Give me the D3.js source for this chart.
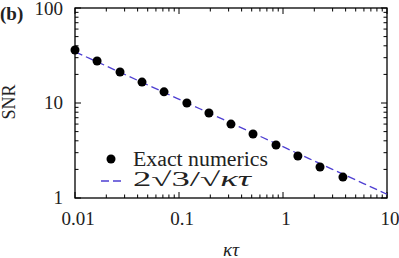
<!DOCTYPE html>
<html>
<head>
  <title>SNR vs kappa tau</title>
  <script src="https://d3js.org/d3.v7.min.js"></script>
</head>
<body style="margin:0">
<svg width="399" height="258"></svg>
<script>
  // kappa*tau values of the numerical points and their SNR
  const kappaTau = [0.01, 0.0163, 0.0271, 0.0441, 0.0718, 0.119, 0.194, 0.316, 0.515, 0.857, 1.39, 2.27, 3.77];
  const snr = [36.1, 27.7, 21.2, 16.6, 13.1, 10.0, 7.85, 6.0, 4.72, 3.61, 2.77, 2.12, 1.66];
  const xTicks = [0.01, 0.1, 1, 10];
  const yTicks = [1, 10, 100];
  const legendLabels = ["Exact numerics", "2\u221A3/\u221A"];

  const serif = "'Times New Roman', 'Liberation Serif', Tinos, Times";
  const svg = d3.select("svg");
  const plotL = 75, plotR = 387, plotT = 8, plotB = 198;

  const x = d3.scaleLog().domain([0.01, 10]).range([plotL, plotR]);
  const y = d3.scaleLog().domain([1, 100]).range([plotB, plotT]);

  // minor ticks for each decade
  const xMinor = [], yMinor = [];
  for (let d = -2; d < 1; d++) for (let k = 2; k < 10; k++) xMinor.push(k * Math.pow(10, d));
  for (let d = 0; d < 2; d++) for (let k = 2; k < 10; k++) yMinor.push(k * Math.pow(10, d));

  const g = svg.append("g");

  function tickLines(sel, vals, len, axis) {
    vals.forEach(v => {
      if (axis === "x") {
        sel.append("line").attr("x1", x(v)).attr("x2", x(v)).attr("y1", plotB).attr("y2", plotB - len);
        sel.append("line").attr("x1", x(v)).attr("x2", x(v)).attr("y1", plotT).attr("y2", plotT + len);
      } else {
        sel.append("line").attr("y1", y(v)).attr("y2", y(v)).attr("x1", plotL).attr("x2", plotL + len);
        sel.append("line").attr("y1", y(v)).attr("y2", y(v)).attr("x1", plotR).attr("x2", plotR - len);
      }
    });
  }
  const ticks = g.append("g").attr("stroke", "#000").attr("stroke-width", 1);
  tickLines(ticks, xTicks, 6, "x");
  tickLines(ticks, xMinor, 3.5, "x");
  tickLines(ticks, yTicks, 6, "y");
  tickLines(ticks, yMinor, 3.5, "y");

  // frame
  g.append("rect")
    .attr("x", plotL).attr("y", plotT)
    .attr("width", plotR - plotL).attr("height", plotB - plotT)
    .attr("fill", "none").attr("stroke", "#000").attr("stroke-width", 1.3);

  // tick labels
  g.selectAll(".xl").data(xTicks).join("text")
    .attr("x", d => x(d) + 3).attr("y", 225)
    .attr("text-anchor", "middle").attr("font-size", 19).attr("fill", "#222")
    .style("font-family", serif)
    .text(d => d3.format("~g")(d));
  g.selectAll(".yl").data(yTicks).join("text")
    .attr("x", 63).attr("y", d => Math.max(y(d), 9)).attr("dy", "0.33em")
    .attr("text-anchor", "end").attr("font-size", 19).attr("fill", "#222")
    .style("font-family", serif)
    .text(d => d);

  // fit line
  const lineX = d3.range(0, 41).map(i => Math.pow(10, -2 + i * 3 / 40));
  const line = d3.line().x(d => x(d)).y(d => y(2 * Math.sqrt(3) / Math.sqrt(d)));
  svg.append("path")
    .datum(lineX)
    .attr("d", line)
    .attr("fill", "none").attr("stroke", "#4e3fd2").attr("stroke-width", 1.3)
    .attr("stroke-dasharray", "8,4");

  // points
  svg.selectAll("circle.pt").data(kappaTau).join("circle")
    .attr("class", "pt")
    .attr("cx", d => x(d)).attr("cy", (d, i) => y(snr[i]))
    .attr("r", 4.5).attr("fill", "#000");

  // legend
  const lg = svg.append("g");
  lg.append("circle").attr("cx", 111).attr("cy", 159).attr("r", 4.5).attr("fill", "#000");
  lg.append("line").attr("x1", 101).attr("x2", 122).attr("y1", 181).attr("y2", 181)
    .attr("stroke", "#4e3fd2").attr("stroke-width", 1.3).attr("stroke-dasharray", "8,4");
  lg.append("text").attr("x", 133).attr("y", 166).attr("font-size", 20).attr("fill", "#222")
    .style("font-family", serif)
    .attr("textLength", 135).attr("lengthAdjust", "spacingAndGlyphs").text(legendLabels[0]);
  const t2 = lg.append("text").attr("x", 133).attr("y", 186).attr("font-size", 20).attr("fill", "#222")
    .style("font-family", serif)
    .attr("textLength", 118).attr("lengthAdjust", "spacingAndGlyphs");
  t2.append("tspan").text(legendLabels[1]);
  t2.append("tspan").attr("font-style", "italic").text("\u03BA\u03C4");

  // axis titles
  svg.append("text").attr("x", 231).attr("y", 256).attr("text-anchor", "middle")
    .attr("font-size", 19).attr("font-style", "italic").attr("fill", "#222")
    .style("font-family", serif).text("\u03BA\u03C4");
  svg.append("text").attr("transform", "translate(15,102) rotate(-90)")
    .attr("text-anchor", "middle").attr("font-size", 18).attr("fill", "#222")
    .style("font-family", serif).text("SNR");
  svg.append("text").attr("x", 0).attr("y", 20).attr("font-size", 19).attr("fill", "#222")
    .attr("font-weight", "bold").style("font-family", serif).text("(b)");
</script>
</body>
</html>
